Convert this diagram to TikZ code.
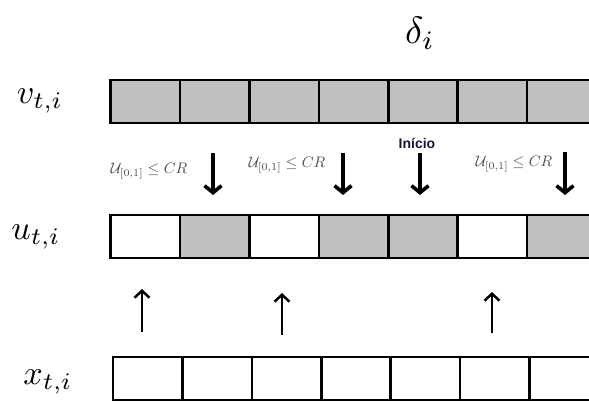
\documentclass[tikz,border=0pt]{standalone}
\usepackage{graphicx}
\usepackage{fontspec}
\newfontfamily\inicfont{Liberation Sans}
\usetikzlibrary{arrows.meta}
\definecolor{cellgray}{RGB}{192,192,192}
\definecolor{navytext}{RGB}{20,20,70}
\tikzset{
  cell/.style={draw=black, line width=2.6pt, minimum width=69.4pt, minimum height=43pt, inner sep=0pt, outer sep=0pt},
  grayc/.style={cell, fill=cellgray},
  whitec/.style={cell, fill=white},
  textlab/.style={inner sep=0pt},
  downarr/.style={line width=3.6pt, -{Straight Barb[length=7pt,width=17pt]}},
  uparr/.style={line width=2.5pt, -{Straight Barb[length=7pt,width=15pt]}},
  crlabel/.style={text=black!70, inner sep=0pt},
  iniclabel/.style={font=\inicfont\bfseries\fontsize{14}{16}\selectfont, text=navytext, inner sep=0pt},
}
\newcommand{\crtext}{\scalebox{1.52}{$\mathcal{U}_{[0,1]} \leq CR$}}
\begin{document}
\begin{tikzpicture}[x=1pt,y=-1pt]
\useasboundingbox (0,0) rectangle (589,404);
\clip (0,0) rectangle (589,404);
% delta label
\node[textlab] (delta) at (420,33) {\scalebox{3.8}{$\delta_i$}};
% row labels
\node[textlab] (vlab) at (40,101) {\scalebox{3.4}{$v_{t,i}$}};
\node[textlab] (ulab) at (36,237) {\scalebox{3.4}{$u_{t,i}$}};
\node[textlab] (xlab) at (48,382) {\scalebox{3.4}{$x_{t,i}$}};
% v row: all gray
\foreach \k in {0,...,6} {
  \node[grayc] (v\k) at (145.4+\k*69.4,101.5) {};
}
% u row
\foreach \k/\s in {0/whitec,1/grayc,2/whitec,3/grayc,4/grayc,5/whitec,6/grayc} {
  \node[\s] (u\k) at (145.4+\k*69.4,236.5) {};
}
% x row
\foreach \k in {0,...,6} {
  \node[whitec] (x\k) at (147.7+\k*69.4,378.5) {};
}
% crossover labels
\node[crlabel] (cr1) at (149,171) {\crtext};
\node[crlabel] (cr2) at (287,165) {\crtext};
\node[crlabel] (cr3) at (514,164) {\crtext};
\node[iniclabel] (inicio) at (417,143) {Início};
% down arrows
\coordinate (d1s) at (213,153); \coordinate (d1e) at (213,195);
\coordinate (d2s) at (343,153); \coordinate (d2e) at (343,195);
\coordinate (d3s) at (420,153); \coordinate (d3e) at (420,195);
\coordinate (d4s) at (565,152); \coordinate (d4e) at (565,195);
\draw[downarr] (d1s) -- (d1e);
\draw[downarr] (d2s) -- (d2e);
\draw[downarr] (d3s) -- (d3e);
\draw[downarr] (d4s) -- (d4e);
% up arrows
\coordinate (a1s) at (142,332); \coordinate (a1e) at (142,289);
\coordinate (a2s) at (282,335); \coordinate (a2e) at (282,293);
\coordinate (a3s) at (492,333); \coordinate (a3e) at (492,292);
\draw[uparr] (a1s) -- (a1e);
\draw[uparr] (a2s) -- (a2e);
\draw[uparr] (a3s) -- (a3e);
\end{tikzpicture}
\end{document}
